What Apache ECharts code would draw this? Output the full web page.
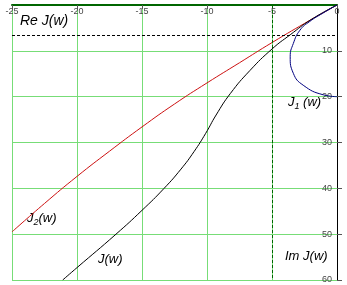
<!DOCTYPE html>
<html><head><meta charset="utf-8">
<script src="https://cdn.jsdelivr.net/npm/echarts@6/dist/echarts.min.js"></script>
<style>html,body{margin:0;padding:0;background:#fff}#c{width:347px;height:285px}</style>
</head><body><div id="c"></div>
<script>
// J(w)
const jRe = [0, -2, -3.6, -5, -6.7, -8.2, -9.3, -10.1, -11, -12, -13.3, -15, -17, -20, -21.1];
const jIm = [0, 3.2, 6.5, 9.6, 14.3, 19.3, 24, 28, 32, 35.8, 40, 44.8, 50, 57.3, 60];
// J1(w)
const j1Re = [0, -1.1, -2.1, -2.85, -3.36, -3.6, -3.36, -2.6, -1.05, 0];
const j1Im = [0, 1.8, 3.6, 5.5, 8.4, 11.3, 14.9, 17.5, 19.6, 20];
// J2(w)
const j2Re = [0, -2, -5, -7.5, -10, -12.5, -15, -17.5, -20, -22.5, -25];
const j2Im = [0, 3.2, 8.2, 12.6, 17, 21.6, 26.6, 31.9, 37.4, 43.3, 49.5];
const xTicks = [-25, -20, -15, -10, -5, 0];
const yTicks = [10, 20, 30, 40, 50, 60];
const refIm = 6.5, refRe = -5;

const zip = (a, b) => a.map((v, i) => [v, b[i]]);
const chart = echarts.init(document.getElementById('c'), null, {renderer: 'canvas'});
const F = 'Liberation Sans, Arial, sans-serif';
chart.setOption({
  animation: false,
  grid: {left: 12, right: 10, top: 5, bottom: 5},
  xAxis: {
    type: 'value', position: 'top', min: -25, max: 0, interval: 5,
    axisLine: {lineStyle: {color: '#006600', width: 2}},
    axisTick: {show: true, inside: true, length: 4, lineStyle: {color: '#555'}},
    axisLabel: {inside: true, margin: 2, fontSize: 9, color: '#444', fontFamily: F,
      formatter: v => xTicks.includes(v) ? String(v) : ''},
    splitLine: {show: true, lineStyle: {color: '#77dd77', width: 1}}
  },
  yAxis: {
    type: 'value', position: 'right', inverse: true, min: 0, max: 60, interval: 10,
    axisLine: {onZero: false, lineStyle: {color: '#000', width: 1}},
    axisTick: {show: true, length: 5, lineStyle: {color: '#555'}},
    axisLabel: {inside: true, margin: 5, fontSize: 9, color: '#444', fontFamily: F, showMinLabel: false,
      formatter: v => yTicks.includes(v) ? String(v) : ''},
    splitLine: {show: true, lineStyle: {color: '#77dd77', width: 1}}
  },
  series: [
    {type: 'line', data: zip(j2Re, j2Im), smooth: 0.5, showSymbol: false,
      lineStyle: {color: '#cc1111', width: 1},
      markLine: {silent: true, symbol: 'none', label: {show: false},
        data: [
          {yAxis: refIm, lineStyle: {color: '#000', type: [3, 2], width: 1}},
          {xAxis: refRe, lineStyle: {color: '#006600', type: [3, 2], width: 1}}
        ]}},
    {type: 'line', data: zip(jRe, jIm), smooth: 0.5, showSymbol: false,
      lineStyle: {color: '#000', width: 1}},
    {type: 'line', data: zip(j1Re, j1Im), smooth: 0.5, showSymbol: false,
      lineStyle: {color: '#000080', width: 1}}
  ],
  graphic: [
    {type: 'text', left: 20, top: 14, style: {text: 'Re J(w)', font: 'italic 14px ' + F, fill: '#000'}},
    {type: 'text', left: 288, top: 96, style: {text: '{a|J}{s|1}{a| (w)}', rich: {a: {font: 'italic 13px ' + F, fill: '#000'}, s: {font: 'italic 9px ' + F, fill: '#000', padding: [8, 0, 0, 0]}}}},
    {type: 'text', left: 27, top: 212, style: {text: '{a|J}{s|2}{a|(w)}', rich: {a: {font: 'italic 13px ' + F, fill: '#000'}, s: {font: 'italic 9px ' + F, fill: '#000', padding: [8, 0, 0, 0]}}}},
    {type: 'text', left: 98, top: 253, style: {text: 'J(w)', font: 'italic 13px ' + F, fill: '#000'}},
    {type: 'text', left: 285, top: 250, style: {text: 'Im J(w)', font: 'italic 13px ' + F, fill: '#000'}}
  ]
});
</script></body></html>
